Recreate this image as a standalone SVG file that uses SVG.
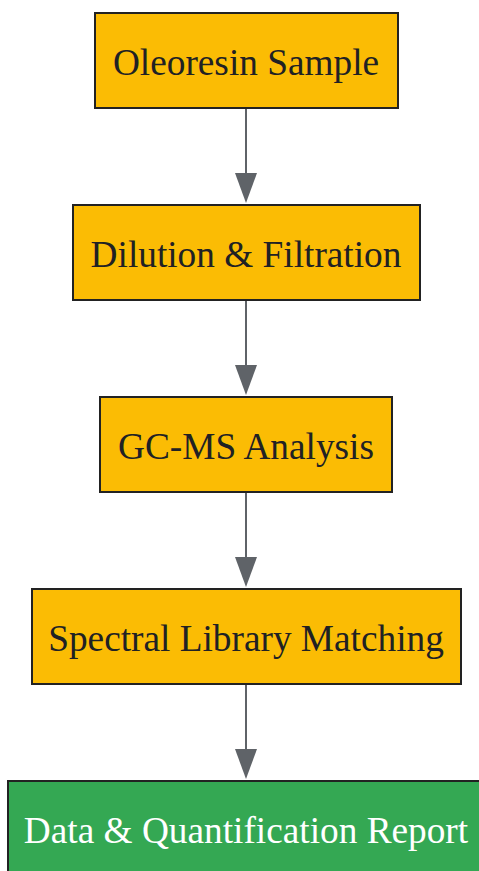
<svg xmlns="http://www.w3.org/2000/svg" width="479" height="871" viewBox="0 0 479 871">
<style>
.n{fill:#fbbc04;stroke:#222;stroke-width:2}
.g{fill:#34a853;stroke:#222;stroke-width:2}
.t{font-family:"Liberation Serif","Times New Roman",serif;font-size:37.3px;fill:#202124;text-anchor:middle;dominant-baseline:central}
.w{fill:#fff}
.e{stroke:#5f6368;stroke-width:2;fill:none}
.h{fill:#5f6368}
</style>
<rect width="479" height="871" fill="#fff"/>
<g id="edges">
<line class="e" x1="246" y1="109" x2="246" y2="173"/><path class="h" d="M235,173 L257,173 L246,203 Z"/>
<line class="e" x1="246" y1="301" x2="246" y2="365"/><path class="h" d="M235,365 L257,365 L246,395 Z"/>
<line class="e" x1="246" y1="493" x2="246" y2="557"/><path class="h" d="M235,557 L257,557 L246,587 Z"/>
<line class="e" x1="246" y1="685" x2="246" y2="749"/><path class="h" d="M235,749 L257,749 L246,779 Z"/>
</g>
<g id="n1"><rect class="n" x="95" y="13" width="303" height="95"/><text class="t" x="246" y="62">Oleoresin Sample</text></g>
<g id="n2"><rect class="n" x="73" y="205" width="347" height="95"/><text class="t" x="246" y="254">Dilution &amp; Filtration</text></g>
<g id="n3"><rect class="n" x="100" y="397" width="292" height="95"/><text class="t" x="246" y="446">GC-MS Analysis</text></g>
<g id="n4"><rect class="n" x="32" y="589" width="429" height="95"/><text class="t" x="246" y="638">Spectral Library Matching</text></g>
<g id="n5"><rect class="g" x="8" y="781" width="477" height="95"/><text class="t w" x="246" y="830">Data &amp; Quantification Report</text></g>
</svg>
